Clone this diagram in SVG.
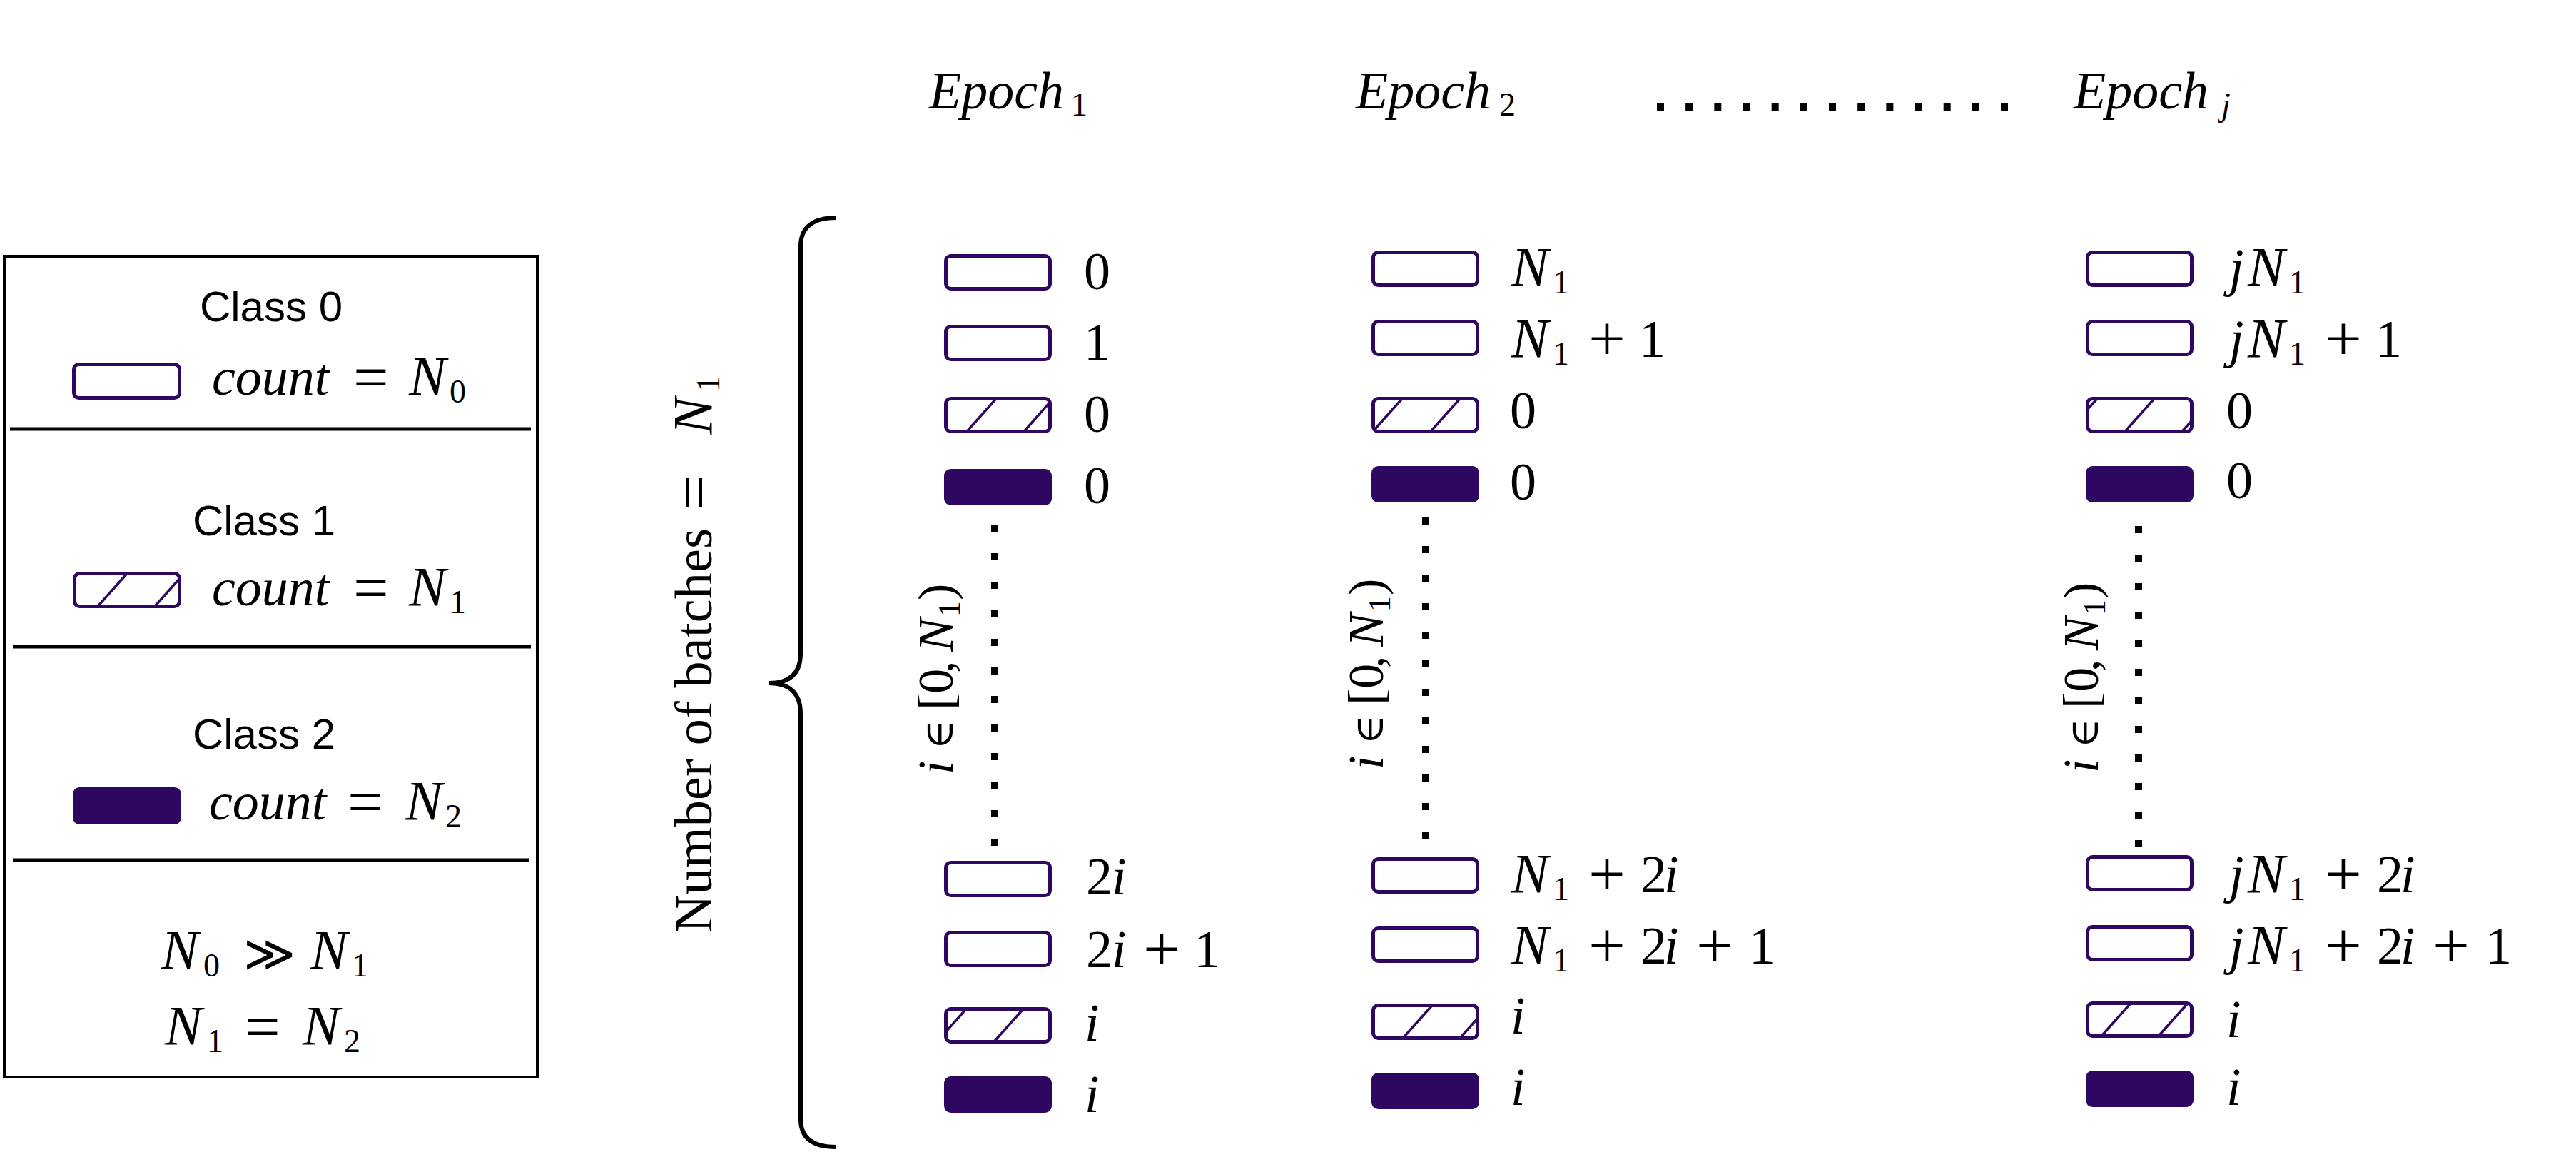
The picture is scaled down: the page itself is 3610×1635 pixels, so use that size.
<svg xmlns="http://www.w3.org/2000/svg" width="3610" height="1635" viewBox="0 0 3610 1635">
<style>
.box{fill:#fff;stroke:#2e0860;stroke-width:5}
.full{fill:#2e0860;stroke:#2e0860;stroke-width:5}
.hatch{stroke:#2e0860;stroke-width:3.5}
.m{font-family:"Liberation Serif","Times New Roman",serif;font-size:74px;fill:#000}
.it{font-style:italic}
.N{font-style:italic;font-size:78px}
.op{font-size:92px}
.eq{font-size:88px}
.gg{font-family:"DejaVu Sans",sans-serif;font-weight:200;font-size:70px}
.sub{font-size:46px;font-style:normal}
.subi{font-size:46px;font-style:italic}
.sans{font-family:"Liberation Sans",Arial,sans-serif;font-size:60px;fill:#000;text-anchor:middle}
.dots{stroke:#000;stroke-width:10;fill:none}
.brace{stroke:#000;stroke-width:6;fill:none}
.frame{fill:none;stroke:#000;stroke-width:4}
.div{stroke:#000;stroke-width:5}
.rl{font-size:70px}
</style>
<defs>
<clipPath id="cL"><rect x="104.5" y="803.5" width="147" height="46" rx="7"/></clipPath>
<clipPath id="c1a"><rect x="1325.5" y="558.5" width="146" height="46" rx="7"/></clipPath>
<clipPath id="c2a"><rect x="1924.5" y="558.5" width="146" height="46" rx="7"/></clipPath>
<clipPath id="cja"><rect x="2925.5" y="558.5" width="146" height="46" rx="7"/></clipPath>
<clipPath id="c1b"><rect x="1325.5" y="1413.5" width="146" height="46" rx="7"/></clipPath>
<clipPath id="c2b"><rect x="1924.5" y="1408.5" width="146" height="46" rx="7"/></clipPath>
<clipPath id="cjb"><rect x="2925.5" y="1405.5" width="146" height="46" rx="7"/></clipPath>
</defs>
<rect width="3610" height="1635" fill="#fff"/>

<g id="legend">
  <rect class="frame" x="6" y="359" width="747" height="1150"/>
  <line class="div" x1="14" y1="601" x2="744" y2="601"/>
  <line class="div" x1="18" y1="906" x2="744" y2="906"/>
  <line class="div" x1="18" y1="1205" x2="742" y2="1205"/>
  <g id="legend-class0">
    <text class="sans" x="380" y="450">Class 0</text>
    <rect class="box" x="103.5" y="510.5" width="148" height="47" rx="7"/>
    <text class="m"><tspan class="it" x="297" y="553">count</tspan><tspan class="eq" x="495" y="558">=</tspan><tspan class="N" x="573" y="553">N</tspan><tspan class="sub" x="630" y="564">0</tspan></text>
  </g>
  <g id="legend-class1">
    <text class="sans" x="370" y="750">Class 1</text>
    <rect class="box" x="104.5" y="803.5" width="147" height="46" rx="7"/>
    <g clip-path="url(#cL)"><line class="hatch" x1="137" y1="849.5" x2="178" y2="803.5"/><line class="hatch" x1="217" y1="849.5" x2="258" y2="803.5"/></g>
    <text class="m"><tspan class="it" x="297" y="848">count</tspan><tspan class="eq" x="495" y="853">=</tspan><tspan class="N" x="573" y="848">N</tspan><tspan class="sub" x="630" y="859">1</tspan></text>
  </g>
  <g id="legend-class2">
    <text class="sans" x="370" y="1049">Class 2</text>
    <rect class="full" x="104.5" y="1105.5" width="147" height="47" rx="7"/>
    <text class="m"><tspan class="it" x="293" y="1148">count</tspan><tspan class="eq" x="487" y="1153">=</tspan><tspan class="N" x="568" y="1148">N</tspan><tspan class="sub" x="624" y="1159">2</tspan></text>
  </g>
  <g id="legend-relations">
    <text class="m"><tspan class="N" x="226" y="1357">N</tspan><tspan class="sub" x="285" y="1368">0</tspan><tspan class="gg" x="341" y="1360">≫</tspan><tspan class="N" x="435" y="1357">N</tspan><tspan class="sub" x="493" y="1368">1</tspan></text>
    <text class="m"><tspan class="N" x="231" y="1463">N</tspan><tspan class="sub" x="290" y="1474">1</tspan><tspan class="eq" x="343" y="1468">=</tspan><tspan class="N" x="424" y="1463">N</tspan><tspan class="sub" x="482" y="1474">2</tspan></text>
  </g>
</g>

<g id="titles">
  <text class="m it"><tspan x="1302" y="152">Epoch</tspan><tspan class="sub" x="1501" y="162">1</tspan></text>
  <text class="m it"><tspan x="1900" y="152">Epoch</tspan><tspan class="sub" x="2101" y="162">2</tspan></text>
  <text class="m it"><tspan x="2906" y="152">Epoch</tspan><tspan class="subi" x="3113" y="162">j</tspan></text>
</g>

<g id="batches-label">
  <path class="brace" d="M1172 305 C1140 305 1122 318 1122 345 L1122 915 C1122 945 1105 957 1078 957 C1105 957 1122 970 1122 1000 L1122 1568 C1122 1595 1140 1607 1172 1607"/>
  <text class="m" transform="translate(997,1307) rotate(-90)"><tspan x="0" y="0" textLength="567" lengthAdjust="spacing">Number of batches</tspan><tspan class="eq" x="592" y="5">=</tspan><tspan class="N" x="698" y="0">N</tspan><tspan class="sub" x="758" y="11">1</tspan></text>
</g>

<g id="epoch1">
  <rect class="box" x="1325.5" y="358.5" width="146" height="46" rx="7"/>
  <rect class="box" x="1325.5" y="457.5" width="146" height="46" rx="7"/>
  <rect class="box" x="1325.5" y="558.5" width="146" height="46" rx="7"/>
  <g clip-path="url(#c1a)"><line class="hatch" x1="1355" y1="604.5" x2="1396" y2="558.5"/><line class="hatch" x1="1435" y1="604.5" x2="1476" y2="558.5"/></g>
  <rect class="full" x="1325.5" y="659.5" width="146" height="46" rx="7"/>
  <rect class="box" x="1325.5" y="1208.5" width="146" height="46" rx="7"/>
  <rect class="box" x="1325.5" y="1306.5" width="146" height="46" rx="7"/>
  <rect class="box" x="1325.5" y="1413.5" width="146" height="46" rx="7"/>
  <g clip-path="url(#c1b)"><line class="hatch" x1="1313" y1="1459.5" x2="1354" y2="1413.5"/><line class="hatch" x1="1393" y1="1459.5" x2="1434" y2="1413.5"/></g>
  <rect class="full" x="1325.5" y="1510.5" width="146" height="46" rx="7"/>
  <text class="m" x="1519" y="405">0</text>
  <text class="m" x="1519" y="504">1</text>
  <text class="m" x="1519" y="605">0</text>
  <text class="m" x="1519" y="705">0</text>
  <text class="m"><tspan x="1522" y="1253">2</tspan><tspan class="it" x="1558" y="1253">i</tspan></text>
  <text class="m"><tspan x="1522" y="1355">2</tspan><tspan class="it" x="1558" y="1355">i</tspan><tspan class="op" x="1602" y="1360">+</tspan><tspan x="1673" y="1355">1</tspan></text>
  <text class="m it" x="1520" y="1458">i</text>
  <text class="m it" x="1520" y="1558">i</text>
  <text class="m rl" transform="translate(1335,1087) rotate(-90)"><tspan class="it" x="2" y="0">i</tspan><tspan x="37" y="0" style="font-family:'DejaVu Serif',serif;font-size:56px">∈</tspan><tspan x="92" y="0">[0</tspan><tspan x="144" y="0">,</tspan><tspan class="it" x="174" y="0">N</tspan><tspan class="sub" x="223" y="10" style="font-size:44px">1</tspan><tspan x="246" y="0">)</tspan></text>
</g>

<g id="epoch2">
  <rect class="box" x="1924.5" y="353.5" width="146" height="46" rx="7"/>
  <rect class="box" x="1924.5" y="450.5" width="146" height="46" rx="7"/>
  <rect class="box" x="1924.5" y="558.5" width="146" height="46" rx="7"/>
  <g clip-path="url(#c2a)"><line class="hatch" x1="1924" y1="604.5" x2="1965" y2="558.5"/><line class="hatch" x1="2005" y1="604.5" x2="2046" y2="558.5"/></g>
  <rect class="full" x="1924.5" y="655.5" width="146" height="46" rx="7"/>
  <rect class="box" x="1924.5" y="1203.5" width="146" height="46" rx="7"/>
  <rect class="box" x="1924.5" y="1300.5" width="146" height="46" rx="7"/>
  <rect class="box" x="1924.5" y="1408.5" width="146" height="46" rx="7"/>
  <g clip-path="url(#c2b)"><line class="hatch" x1="1886" y1="1454.5" x2="1927" y2="1408.5"/><line class="hatch" x1="1966" y1="1454.5" x2="2007" y2="1408.5"/><line class="hatch" x1="2046" y1="1454.5" x2="2087" y2="1408.5"/></g>
  <rect class="full" x="1924.5" y="1505.5" width="146" height="46" rx="7"/>
  <text class="m"><tspan class="N" x="2118" y="400">N</tspan><tspan class="sub" x="2176" y="411">1</tspan></text>
  <text class="m"><tspan class="N" x="2118" y="500">N</tspan><tspan class="sub" x="2176" y="511">1</tspan><tspan class="op" x="2226" y="505">+</tspan><tspan x="2297" y="500">1</tspan></text>
  <text class="m" x="2116" y="600">0</text>
  <text class="m" x="2116" y="700">0</text>
  <text class="m"><tspan class="N" x="2118" y="1250">N</tspan><tspan class="sub" x="2176" y="1261">1</tspan><tspan class="op" x="2226" y="1255">+</tspan><tspan x="2299" y="1250">2</tspan><tspan class="it" x="2332" y="1250">i</tspan></text>
  <text class="m"><tspan class="N" x="2118" y="1350">N</tspan><tspan class="sub" x="2176" y="1361">1</tspan><tspan class="op" x="2226" y="1355">+</tspan><tspan x="2299" y="1350">2</tspan><tspan class="it" x="2332" y="1350">i</tspan><tspan class="op" x="2377" y="1355">+</tspan><tspan x="2451" y="1350">1</tspan></text>
  <text class="m it" x="2117" y="1448">i</text>
  <text class="m it" x="2117" y="1548">i</text>
  <text class="m rl" transform="translate(1938,1080) rotate(-90)"><tspan class="it" x="2" y="0">i</tspan><tspan x="37" y="0" style="font-family:'DejaVu Serif',serif;font-size:56px">∈</tspan><tspan x="92" y="0">[0</tspan><tspan x="144" y="0">,</tspan><tspan class="it" x="174" y="0">N</tspan><tspan class="sub" x="223" y="10" style="font-size:44px">1</tspan><tspan x="246" y="0">)</tspan></text>
</g>

<g id="epochj">
  <rect class="box" x="2925.5" y="353.5" width="146" height="46" rx="7"/>
  <rect class="box" x="2925.5" y="450.5" width="146" height="46" rx="7"/>
  <rect class="box" x="2925.5" y="558.5" width="146" height="46" rx="7"/>
  <g clip-path="url(#cja)"><line class="hatch" x1="2898" y1="604.5" x2="2939" y2="558.5"/><line class="hatch" x1="2978" y1="604.5" x2="3019" y2="558.5"/><line class="hatch" x1="3058" y1="604.5" x2="3099" y2="558.5"/></g>
  <rect class="full" x="2925.5" y="655.5" width="146" height="46" rx="7"/>
  <rect class="box" x="2925.5" y="1200.5" width="146" height="46" rx="7"/>
  <rect class="box" x="2925.5" y="1298.5" width="146" height="46" rx="7"/>
  <rect class="box" x="2925.5" y="1405.5" width="146" height="46" rx="7"/>
  <g clip-path="url(#cjb)"><line class="hatch" x1="2945" y1="1451.5" x2="2986" y2="1405.5"/><line class="hatch" x1="3025" y1="1451.5" x2="3066" y2="1405.5"/></g>
  <rect class="full" x="2925.5" y="1502.5" width="146" height="46" rx="7"/>
  <text class="m"><tspan class="it" x="3124" y="400">j</tspan><tspan class="N" x="3150" y="400">N</tspan><tspan class="sub" x="3208" y="411">1</tspan></text>
  <text class="m"><tspan class="it" x="3124" y="500">j</tspan><tspan class="N" x="3150" y="500">N</tspan><tspan class="sub" x="3208" y="511">1</tspan><tspan class="op" x="3258" y="505">+</tspan><tspan x="3329" y="500">1</tspan></text>
  <text class="m" x="3120" y="600">0</text>
  <text class="m" x="3120" y="698">0</text>
  <text class="m"><tspan class="it" x="3124" y="1250">j</tspan><tspan class="N" x="3150" y="1250">N</tspan><tspan class="sub" x="3208" y="1261">1</tspan><tspan class="op" x="3258" y="1255">+</tspan><tspan x="3331" y="1250">2</tspan><tspan class="it" x="3364" y="1250">i</tspan></text>
  <text class="m"><tspan class="it" x="3124" y="1350">j</tspan><tspan class="N" x="3150" y="1350">N</tspan><tspan class="sub" x="3208" y="1361">1</tspan><tspan class="op" x="3258" y="1355">+</tspan><tspan x="3331" y="1350">2</tspan><tspan class="it" x="3364" y="1350">i</tspan><tspan class="op" x="3409" y="1355">+</tspan><tspan x="3483" y="1350">1</tspan></text>
  <text class="m it" x="3120" y="1453">i</text>
  <text class="m it" x="3120" y="1548">i</text>
  <text class="m rl" transform="translate(2940,1085) rotate(-90)"><tspan class="it" x="2" y="0">i</tspan><tspan x="37" y="0" style="font-family:'DejaVu Serif',serif;font-size:56px">∈</tspan><tspan x="92" y="0">[0</tspan><tspan x="144" y="0">,</tspan><tspan class="it" x="174" y="0">N</tspan><tspan class="sub" x="223" y="10" style="font-size:44px">1</tspan><tspan x="246" y="0">)</tspan></text>
</g>

<g id="connectors">
  <line class="dots" x1="2322" y1="150" x2="2814" y2="150" stroke-dasharray="10 30.17"/>
  <line class="dots" x1="1394" y1="735" x2="1394" y2="1185" stroke-dasharray="10 30"/>
  <line class="dots" x1="1998" y1="725" x2="1998" y2="1175" stroke-dasharray="10 30"/>
  <line class="dots" x1="2997" y1="737" x2="2997" y2="1187" stroke-dasharray="10 30"/>
</g>
</svg>
